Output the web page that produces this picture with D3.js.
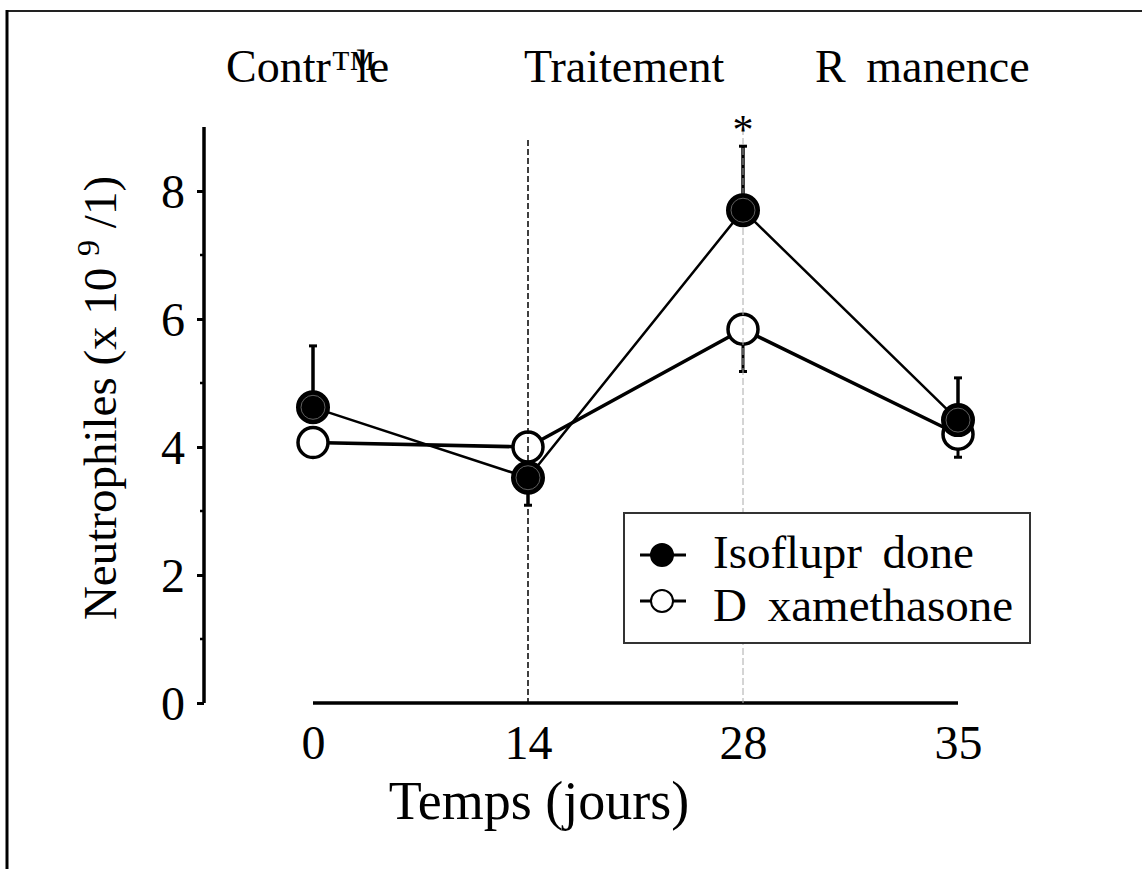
<!DOCTYPE html>
<html><head><meta charset="utf-8">
<script src="https://cdn.jsdelivr.net/npm/d3@7"></script>
<style>body{margin:0;background:#fff}svg{display:block}text{font-family:"Liberation Serif","Times New Roman",serif;fill:#000}</style>
</head><body>
<svg id="c" width="1142" height="869"></svg>
<script>
const days = ["0","14","28","35"];
const isoMean = [4.62, 3.52, 7.70, 4.42];
const isoErr  = [0.96, -0.43, 1.00, 0.66];
const dexMean = [4.07, 4.00, 5.84, 4.20];
const dexErr  = [0, 0.22, -0.66, -0.36];
const yTicks = [0,2,4,6,8];
const yMinor = [1,3,5,7];
const phaseLabels = ["Contr™le", "Traitement", "R manence"];
const legendNames = ["Isoflupr done", "D xamethasone"];

const svg = d3.select("#c");
const x = d3.scalePoint().domain(days).range([313, 958]);
const y = d3.scaleLinear().domain([0,9]).range([703, 127]);
const TICKFS = 48;

// per-character dx list: extra offset applied at character index k
function dxList(str, k, v){ return Array.from(str).map((c,i)=> i===k ? v : 0).join(" "); }

// frame
svg.append("line").attr("x1",6).attr("x2",1142).attr("y1",11).attr("y2",11).attr("stroke","#222").attr("stroke-width",2);
svg.append("line").attr("x1",7).attr("x2",7).attr("y1",10).attr("y2",869).attr("stroke","#000").attr("stroke-width",3);

// y axis
const yAxis = svg.append("g").attr("transform","translate(204,0)")
  .call(d3.axisLeft(y).tickValues(yTicks).tickSize(7).tickPadding(12).tickFormat(d3.format("d")));
yAxis.select(".domain").attr("d", `M0,${y(9)}V${y(0)}`).attr("stroke","#000").attr("stroke-width",3.5);
yAxis.selectAll(".tick line").attr("stroke-width",3);
yAxis.selectAll(".tick text").style("font-size",TICKFS+"px").attr("dy","0.35em");
svg.append("g").attr("transform","translate(204,0)").selectAll("line").data(yMinor).join("line")
  .attr("x1",-4).attr("x2",0).attr("y1",d=>y(d)).attr("y2",d=>y(d)).attr("stroke","#000").attr("stroke-width",2.5);

// x axis
const xAxis = svg.append("g").attr("transform",`translate(0,${y(0)})`)
  .call(d3.axisBottom(x).tickSize(0).tickPadding(24));
xAxis.select(".domain").attr("d", `M${x("0")},0H${x("35")}`).attr("stroke","#000").attr("stroke-width",3.5);
xAxis.selectAll(".tick text").style("font-size",TICKFS+"px").attr("dy","0.66em");

// titles
svg.append("text").attr("x",539).attr("y",819).attr("text-anchor","middle").style("font-size","54px").text("Temps (jours)");
const yt = svg.append("text").attr("transform","translate(116,398) rotate(-90)").attr("text-anchor","middle").style("font-size","47px");
yt.append("tspan").text("Neutrophiles (x 10 ");
yt.append("tspan").attr("dy",-17).style("font-size","32px").text("9");
yt.append("tspan").attr("dy",17).text(" /1)");

// phase labels
const phaseX = [226, 524, 815];
const phaseDx = [[6,-20],[0,0],[2,9]];
phaseLabels.forEach((s,i)=>{
  svg.append("text").attr("x",phaseX[i]).attr("y",82).style("font-size","46px")
    .attr("dx", dxList(s, phaseDx[i][0], phaseDx[i][1])).text(s);
});

// series lines
const line = d3.line().x((d,i)=>x(days[i])).y(d=>y(d));
svg.append("path").attr("d",line(dexMean)).attr("fill","none").attr("stroke","#000").attr("stroke-width",3.5);
svg.append("path").attr("d",line(isoMean)).attr("fill","none").attr("stroke","#000").attr("stroke-width",2.5);

// error bars
function errBars(mean, err, w){
  const g = svg.append("g");
  mean.forEach((m,i)=>{
    if(!err[i]) return;
    const cx = x(days[i]), y0 = y(m), y1 = y(m+err[i]);
    g.append("line").attr("x1",cx).attr("x2",cx).attr("y1",y0).attr("y2",y1).attr("stroke","#000").attr("stroke-width",w);
    g.append("line").attr("x1",cx-4).attr("x2",cx+4).attr("y1",y1).attr("y2",y1).attr("stroke","#000").attr("stroke-width",3);
  });
}
errBars(dexMean, dexErr, 3);
errBars(isoMean, isoErr, 3.5);

// open markers
svg.append("g").selectAll("circle").data(dexMean).join("circle")
  .attr("cx",(d,i)=>x(days[i])).attr("cy",d=>y(d)).attr("r",15)
  .attr("fill","#fff").attr("stroke","#000").attr("stroke-width",3.5);

// vertical phase lines
svg.append("line").attr("x1",x("14")).attr("x2",x("14")).attr("y1",140).attr("y2",y(0))
  .attr("stroke","#000").attr("stroke-width",1.5).attr("stroke-dasharray","6,3");
svg.append("line").attr("x1",x("28")).attr("x2",x("28")).attr("y1",128).attr("y2",y(0))
  .attr("stroke","#aaa").attr("stroke-width",1).attr("stroke-dasharray","7,3");

// filled markers
const fg = svg.append("g");
fg.selectAll("circle.f").data(isoMean).join("circle").attr("class","f")
  .attr("cx",(d,i)=>x(days[i])).attr("cy",d=>y(d)).attr("r",16)
  .attr("fill","#000").attr("stroke","#000").attr("stroke-width",2);
fg.selectAll("circle.r").data(isoMean).join("circle").attr("class","r")
  .attr("cx",(d,i)=>x(days[i])).attr("cy",d=>y(d)).attr("r",12)
  .attr("fill","none").attr("stroke","#777").attr("stroke-width",0.8);

// asterisk
svg.append("text").attr("x",x("28")).attr("y",144).attr("text-anchor","middle").style("font-size","42px").text("*");

// legend
const lg = svg.append("g");
lg.append("rect").attr("x",624).attr("y",513).attr("width",406).attr("height",130)
  .attr("fill","#fff").attr("stroke","#333").attr("stroke-width",2);
const ly = [555, 601];
const lyText = [568, 621];
const legDx = [[9,9],[2,9]];
legendNames.forEach((s,i)=>{
  lg.append("line").attr("x1",640).attr("x2",686).attr("y1",ly[i]).attr("y2",ly[i]).attr("stroke","#000").attr("stroke-width",3);
  lg.append("circle").attr("cx",662).attr("cy",ly[i]).attr("r",11)
    .attr("fill", i===0 ? "#000" : "#fff").attr("stroke","#000").attr("stroke-width",2);
  lg.append("text").attr("x",713).attr("y",lyText[i]).style("font-size","47px")
    .attr("dx", dxList(s, legDx[i][0], legDx[i][1])).text(s);
});
</script>
</body></html>
